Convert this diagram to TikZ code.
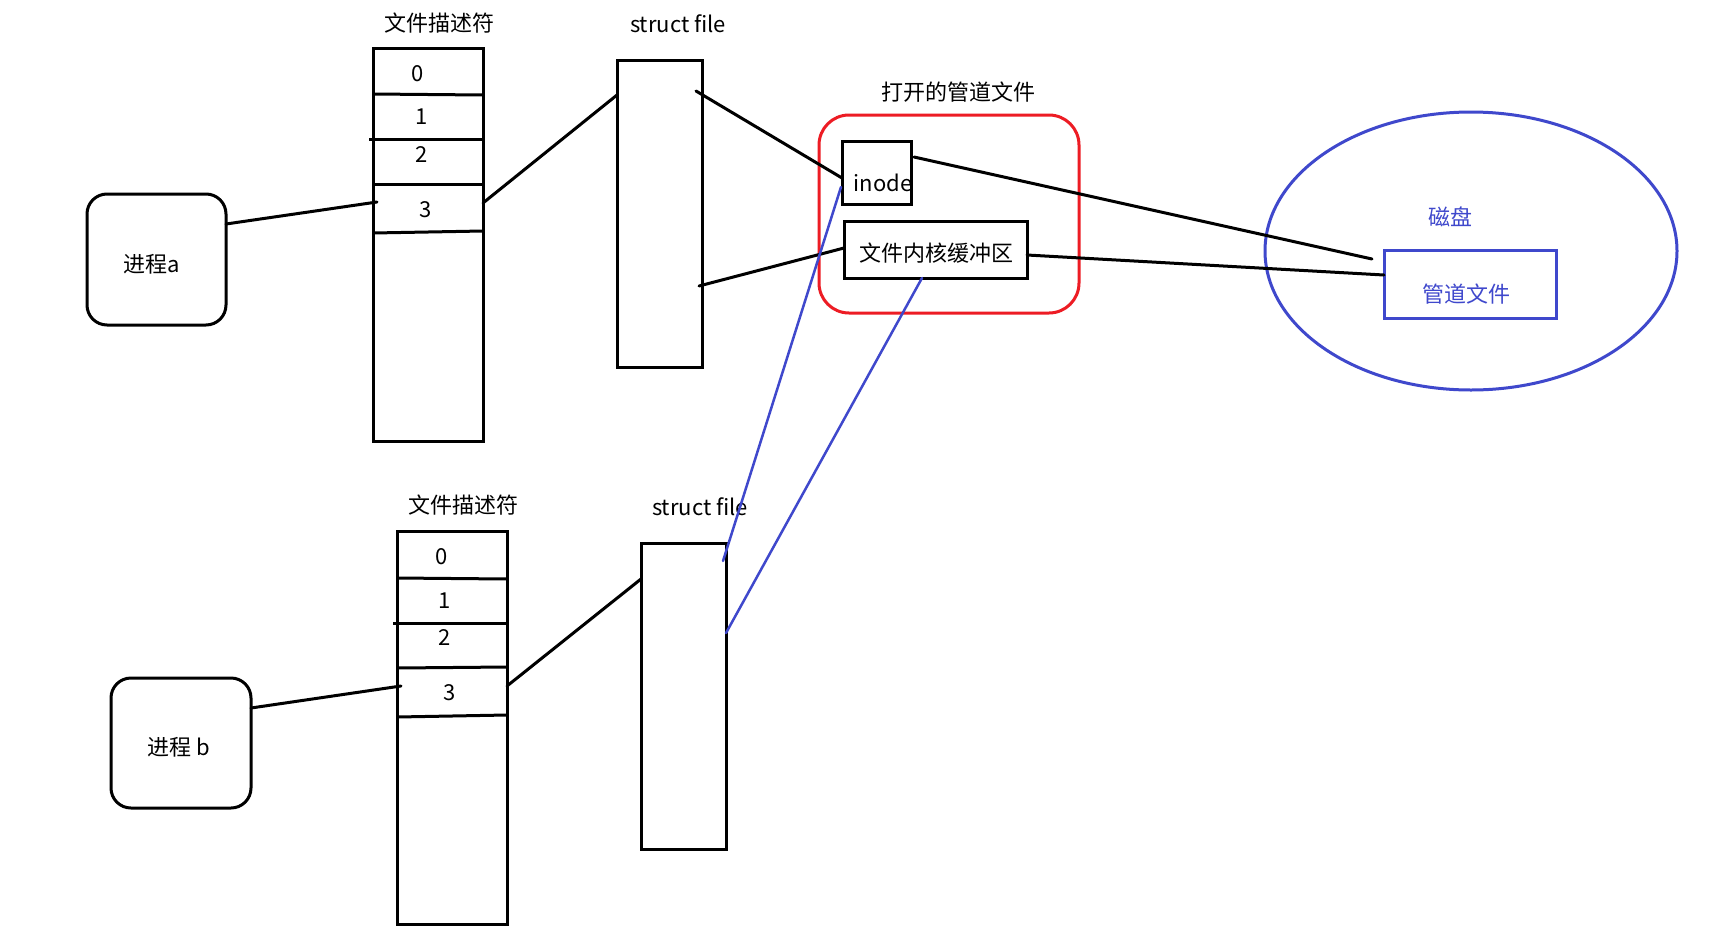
\documentclass[tikz,border=0pt]{standalone}
\usepackage{fontspec}
\setmainfont{Noto Sans CJK SC}
\usetikzlibrary{shapes.geometric}
\definecolor{pblue}{HTML}{3F48CC}
\definecolor{pred}{HTML}{ED1C24}
\begin{document}
\begin{tikzpicture}[x=1pt,y=-1pt,
  every node/.style={font=\fontsize{22}{26}\selectfont, inner sep=0pt, outer sep=0pt},
  box/.style={draw, line width=3pt, anchor=north west},
  rbox/.style={draw, line width=3pt, anchor=north west, rounded corners=20pt},
  conn/.style={line width=3pt, line cap=round},
  bconn/.style={draw=pblue, line width=2.5pt, line cap=round},
  rowline/.style={line width=3pt},
  btxt/.style={text=pblue}]
\useasboundingbox[fill=white] (0,0) rectangle (1717,951);

% ---------- process a ----------
\node[rbox, minimum width=139pt, minimum height=131pt] (pa) at (87,194) {};
\node (patxt) at (152,264) {进程a};

\node (fdatitle) at (439,23) {文件描述符};
\node[box, minimum width=110pt, minimum height=393pt] (fda) at (373,48) {};
\draw[rowline] (373,94) -- (483,95);
\draw[rowline] (369,139) -- (483,139);
\draw[rowline] (373,184) -- (483,184);
\draw[rowline] (373,233) -- (483,231);
\node (fda0) at (418,74) {0};
\node (fda1) at (422,117) {1};
\node (fda2) at (422,155) {2};
\node (fda3) at (426,210) {3};

\node (sfatitle) at (678,24) {struct file};
\node[box, minimum width=85pt, minimum height=307pt] (sfa) at (617,60) {};

% ---------- process b ----------
\node[rbox, minimum width=140pt, minimum height=130pt] (pb) at (111,678) {};
\node (pbtxt) at (179,747) {进程 b};

\node (fdbtitle) at (463,505) {文件描述符};
\node[box, minimum width=110pt, minimum height=393pt] (fdb) at (397,531) {};
\draw[rowline] (397,578) -- (507,579);
\draw[rowline] (393,623) -- (507,623);
\draw[rowline] (397,668) -- (507,667);
\draw[rowline] (397,717) -- (507,715);
\node (fdb0) at (442,557) {0};
\node (fdb1) at (445,601) {1};
\node (fdb2) at (445,638) {2};
\node (fdb3) at (450,693) {3};

\node (sfbtitle) at (700,507) {struct file};
\node[box, minimum width=85pt, minimum height=306pt] (sfb) at (641,543) {};

% ---------- opened pipe file ----------
\node (pipetitle) at (958,92) {打开的管道文件};
\node[draw=pred, line width=3pt, anchor=north west, rounded corners=30pt,
      minimum width=260pt, minimum height=198pt] (pipe) at (819,115) {};
\node[box, minimum width=69pt, minimum height=63pt] (inode) at (842,141) {};
\node (inodetxt) at (883,183) {inode};
\node[box, minimum width=183pt, minimum height=57pt] (buf) at (844,221) {};
\node (buftxt) at (936,253) {文件内核缓冲区};

% ---------- disk ----------
\node[ellipse, draw=pblue, line width=3pt, minimum width=412pt, minimum height=278pt] (disk) at (1471,251) {};
\node[btxt] (disktxt) at (1450,217) {磁盘};
\node[draw=pblue, line width=3pt, anchor=north west, minimum width=172pt, minimum height=68pt] (pf) at (1384,250) {};
\node[btxt] (pftxt) at (1466,294) {管道文件};

% ---------- connectors ----------
\draw[conn] ([yshift=35.5pt]pa.east) -- ([xshift=4pt,yshift=42.5pt]fda.west);
\draw[conn] ([yshift=41.5pt]fda.east) -- ([yshift=118.5pt]sfa.west);
\draw[conn] ([xshift=-6pt,yshift=122.5pt]sfa.east) -- ([yshift=-5.5pt]inode.west);
\draw[conn] ([xshift=-3pt,yshift=-72.5pt]sfa.east) -- ([yshift=1.5pt]buf.west);
\draw[conn] ([xshift=3pt,yshift=15.5pt]inode.east) -- ([xshift=-12pt,yshift=25pt]pf.west);
\draw[conn] ([yshift=-5.5pt]buf.east) -- ([yshift=9pt]pf.west);

\draw[conn] ([yshift=35pt]pb.east) -- ([xshift=4pt,yshift=41.5pt]fdb.west);
\draw[conn] ([yshift=41.5pt]fdb.east) -- ([yshift=117pt]sfb.west);

\draw[bconn] ([xshift=-1pt,yshift=-14.5pt]inode.west) -- ([xshift=-3pt,yshift=135pt]sfb.east);
\draw[bconn] ([xshift=-13.5pt]buf.south) -- ([yshift=63pt]sfb.east);
\end{tikzpicture}
\end{document}
